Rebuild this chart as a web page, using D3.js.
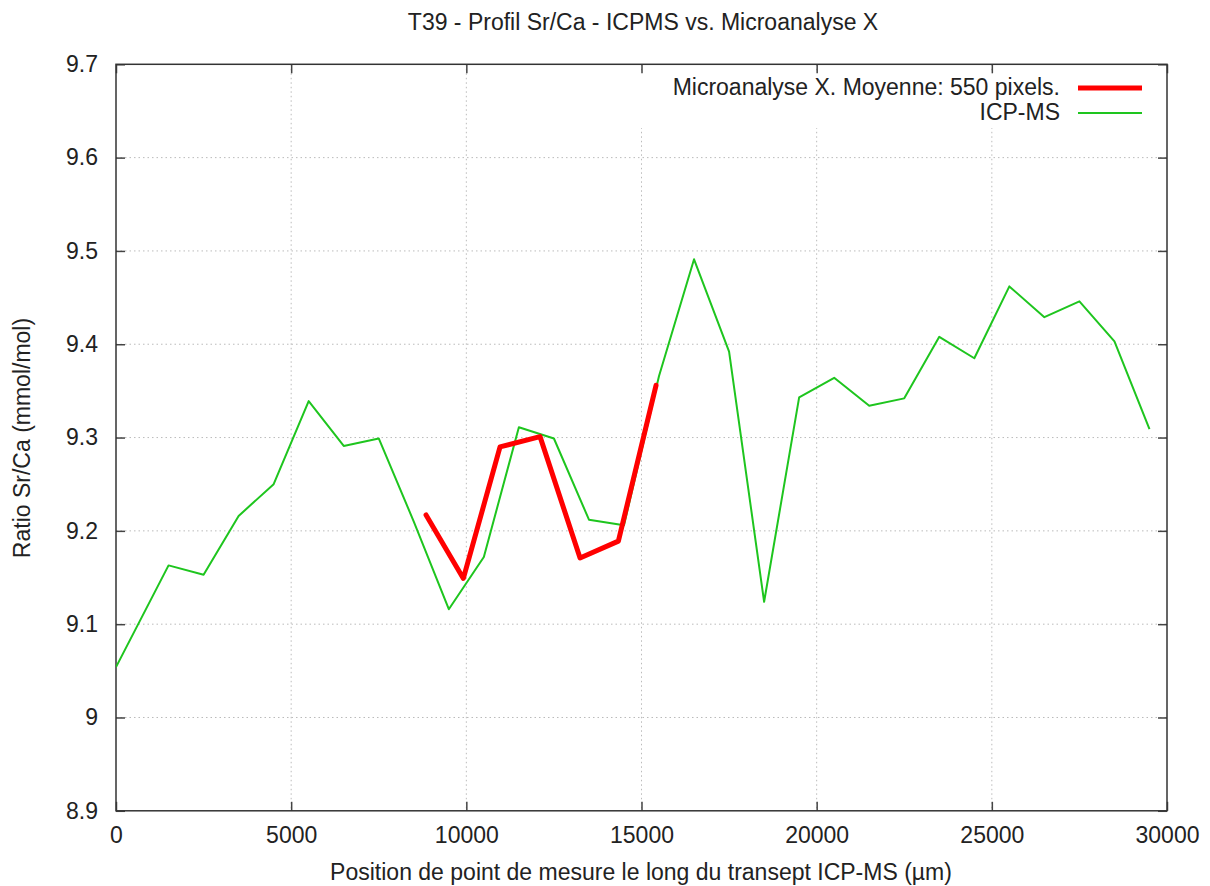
<!DOCTYPE html>
<html>
<head>
<meta charset="utf-8">
<script src="https://cdn.jsdelivr.net/npm/d3@7"></script>
<style>
  html, body { margin: 0; padding: 0; background: #fff; }
  svg text { font-family: "Liberation Sans", Arial, sans-serif; fill: #222; }
</style>
</head>
<body>
<svg id="chart" width="1210" height="886"></svg>
<script>
// ---- data ----
const icpX = [0, 1500, 2500, 3500, 4500, 5500, 6500, 7500, 8500, 9500, 10500, 11500, 12500, 13500, 14500, 15500, 16500, 17500, 18500, 19500, 20500, 21500, 22500, 23500, 24500, 25500, 26500, 27500, 28500, 29500];
const icpY = [9.054, 9.163, 9.153, 9.216, 9.250, 9.339, 9.291, 9.299, 9.210, 9.116, 9.172, 9.311, 9.299, 9.212, 9.206, 9.366, 9.491, 9.392, 9.124, 9.343, 9.364, 9.334, 9.342, 9.408, 9.385, 9.462, 9.429, 9.446, 9.403, 9.309];
const microX = [8850, 9915, 10962, 12104, 13246, 14340, 15415];
const microY = [9.217, 9.149, 9.290, 9.301, 9.171, 9.189, 9.356];
const xTicks = [0, 5000, 10000, 15000, 20000, 25000, 30000];
const yTicks = [8.9, 9.0, 9.1, 9.2, 9.3, 9.4, 9.5, 9.6, 9.7];
const titleText = "T39 - Profil Sr/Ca - ICPMS vs. Microanalyse X";
const xLabel = "Position de point de mesure le long du transept ICP-MS (µm)";
const yLabel = "Ratio Sr/Ca (mmol/mol)";
const seriesNames = ["Microanalyse X. Moyenne: 550 pixels.", "ICP-MS"];

// ---- layout ----
const FS = 23;
const svg = d3.select("#chart");
const L = 116, R = 1167, T = 64.3, B = 810.8;
const x = d3.scaleLinear().domain([0, 30000]).range([L, R]);
const y = d3.scaleLinear().domain([8.9, 9.7]).range([B, T]);

svg.append("defs").append("clipPath").attr("id", "clip")
  .append("rect").attr("x", L).attr("y", T).attr("width", R - L).attr("height", B - T);

// grid
const grid = svg.append("g").attr("stroke", "#bbb").attr("stroke-width", 1).attr("stroke-dasharray", "1.5,3");
grid.selectAll("line.gx").data(xTicks.slice(1, -1)).enter().append("line")
  .attr("x1", d => x(d)).attr("x2", d => x(d)).attr("y1", T).attr("y2", B);
grid.selectAll("line.gy").data(yTicks.slice(1, -1)).enter().append("line")
  .attr("y1", d => y(d)).attr("y2", d => y(d)).attr("x1", L).attr("x2", R);

// legend background (gnuplot clears grid behind key)
svg.append("rect").attr("x", 630).attr("y", 72).attr("width", 528).attr("height", 56).attr("fill", "#fff");

// axes
const fmtY = d => (d === 9 ? "9" : d3.format(".1f")(d));
const axB = svg.append("g").attr("transform", `translate(0,${B})`)
  .call(d3.axisBottom(x).tickValues(xTicks).tickSize(-9).tickPadding(16).tickFormat(d3.format("d")));
const axT = svg.append("g").attr("transform", `translate(0,${T})`)
  .call(d3.axisTop(x).tickValues(xTicks).tickSize(-9).tickFormat(""));
const axL = svg.append("g").attr("transform", `translate(${L},0)`)
  .call(d3.axisLeft(y).tickValues(yTicks).tickSize(-9).tickPadding(18).tickFormat(fmtY));
const axR = svg.append("g").attr("transform", `translate(${R},0)`)
  .call(d3.axisRight(y).tickValues(yTicks).tickSize(-9).tickFormat(""));
[axB, axT, axL, axR].forEach(a => {
  a.select(".domain").remove();
  a.selectAll(".tick line").attr("stroke", "#444").attr("stroke-width", 1.5);
  a.selectAll("text").attr("font-size", FS).attr("fill", "#222")
    .attr("font-family", "'Liberation Sans', Arial, sans-serif");
});
axB.selectAll("text").attr("dy", "0.71em");

// border
svg.append("rect").attr("x", L).attr("y", T).attr("width", R - L).attr("height", B - T)
  .attr("fill", "none").attr("stroke", "#333").attr("stroke-width", 1.5);

// lines
const line = d3.line().x(d => x(d[0])).y(d => y(d[1]));
const plot = svg.append("g").attr("clip-path", "url(#clip)");
plot.append("path").datum(icpX.map((v, i) => [v, icpY[i]]))
  .attr("d", line).attr("fill", "none").attr("stroke", "#1ec51e").attr("stroke-width", 2)
  .attr("stroke-linejoin", "round");
plot.append("path").datum(microX.map((v, i) => [v, microY[i]]))
  .attr("d", line).attr("fill", "none").attr("stroke", "#ff0000").attr("stroke-width", 5)
  .attr("stroke-linejoin", "round").attr("stroke-linecap", "round");

// legend
const leg = svg.append("g");
const legRows = [{ name: seriesNames[0], color: "#ff0000", w: 5, yy: 87 },
                 { name: seriesNames[1], color: "#1ec51e", w: 2, yy: 112 }];
legRows.forEach(r => {
  leg.append("text").attr("x", 1060).attr("y", r.yy).attr("dy", "0.35em")
    .attr("text-anchor", "end").attr("font-size", FS).text(r.name);
  leg.append("line").attr("x1", 1078).attr("x2", 1142).attr("y1", r.yy + 1).attr("y2", r.yy + 1)
    .attr("stroke", r.color).attr("stroke-width", r.w);
});

// titles
svg.append("text").attr("x", 643).attr("y", 22).attr("dy", "0.35em")
  .attr("text-anchor", "middle").attr("font-size", FS).text(titleText);
svg.append("text").attr("x", 641).attr("y", 872).attr("dy", "0.35em")
  .attr("text-anchor", "middle").attr("font-size", FS).text(xLabel);
svg.append("text").attr("transform", "translate(22,438) rotate(-90)").attr("dy", "0.35em")
  .attr("text-anchor", "middle").attr("font-size", FS).text(yLabel);
</script>
</body>
</html>
